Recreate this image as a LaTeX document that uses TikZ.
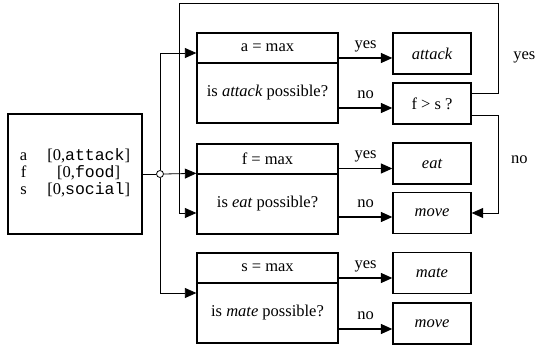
\documentclass[tikz,border=0pt]{standalone}
\usepackage{fontspec}
\setmainfont{Liberation Serif}
\setmonofont{Liberation Mono}
\usetikzlibrary{arrows.meta}
\tikzset{
  txt/.style={font=\fontsize{16.5}{16.5}\selectfont},
}

\begin{document}
\begin{tikzpicture}[
    x=1pt,y=-1pt,
    every node/.style={txt},
    cond/.style={draw,line width=1.3pt,minimum width=141pt,inner sep=0pt},
    act/.style={draw,line width=1.3pt,minimum width=78pt,minimum height=41pt,inner sep=0pt,font=\fontsize{16.5}{16.5}\selectfont\itshape},
    arr/.style={-{Triangle[length=11.5pt,width=10pt]}},
    wire/.style={line width=0.8pt},
    choice/.style={line width=1.3pt,arr},
    lbl/.style={above,inner sep=0pt,yshift=9pt,text depth=0pt}
    ]
    \useasboundingbox (0,0) rectangle (536,350);
    \node[draw,line width=1.3pt,minimum width=134pt,minimum height=120pt,inner sep=0pt] (vars) at (75,174)
      {\begin{tabular}{@{}c@{\hspace{20pt}}c@{}}
        a & [0,\texttt{attack}]\\
        f & [0,\texttt{food}]\\
        s & [0,\texttt{social}]
      \end{tabular}};
    \node[circle,draw,fill=white,inner sep=0pt,minimum size=7pt,line width=0.8pt] (split) at (160,174) {};

    \node[cond,minimum height=30pt] (amax) at (267.5,48) {a = max};
    \node[cond,minimum height=60pt] (apos) at (267.5,93) {is \textit{attack} possible?};
    \node[cond,minimum height=30pt] (fmax) at (267.5,159) {f = max};
    \node[cond,minimum height=60pt] (fpos) at (267.5,204) {is \textit{eat} possible?};
    \node[cond,minimum height=30pt] (smax) at (267.5,268) {s = max};
    \node[cond,minimum height=60pt] (spos) at (267.5,313) {is \textit{mate} possible?};

    \node[act] (attack) at (432,53.5) {attack};
    \node[act,font=\fontsize{16.5}{16.5}\selectfont] (fs) at (432,103.5) {f > s ?};
    \node[act] (eat) at (432,163.5) {eat};
    \node[act] (move1) at (432,213) {move};
    \node[act] (mate) at (432,273) {mate};
    \node[act] (move2) at (432,323.5) {move};

    \draw[wire] (vars.east) -- (split.west);
    \draw[wire,arr] (split.north) |- ([yshift=-5pt]amax.west);
    \draw[wire,arr] (split.east) -- (fpos.north west);
    \draw[wire,arr] (split.south) |- ([yshift=20pt]spos.west);

    \draw[choice] ([yshift=-4.5pt]attack.west -| amax.east) -- node[lbl] {yes} ([yshift=-4.5pt]attack.west);
    \draw[choice] ([yshift=-4.5pt]fs.west -| apos.east) -- node[lbl] {no} ([yshift=-4.5pt]fs.west);
    \draw[choice] ([yshift=-5pt]eat.west -| fmax.east) -- node[lbl] {yes} ([yshift=-5pt]eat.west);
    \draw[choice] ([yshift=-4pt]move1.west -| fpos.east) -- node[lbl] {no} ([yshift=-4pt]move1.west);
    \draw[choice] ([yshift=-5pt]mate.west -| smax.east) -- node[lbl] {yes} ([yshift=-5pt]mate.west);
    \draw[choice] ([yshift=-5.5pt]move2.west -| spos.east) -- node[lbl] {no} ([yshift=-5.5pt]move2.west);

    \coordinate (rt) at (498,3);
    \coordinate (lt) at (179,3);
    \draw[wire,arr] ([yshift=10.5pt]fs.east) -| (rt) -- (lt) |- ([yshift=-9pt]fpos.west);
    \draw[wire,arr] ([yshift=-11.5pt]fs.east) -| (rt |- move1.east) -- (move1.east);
    \node[anchor=east,inner sep=0pt] (yeslbl) at (535.5,57) {yes};
    \node[anchor=west,inner sep=0pt] (nolbl) at (511,160) {no};
  \end{tikzpicture}
\end{document}
